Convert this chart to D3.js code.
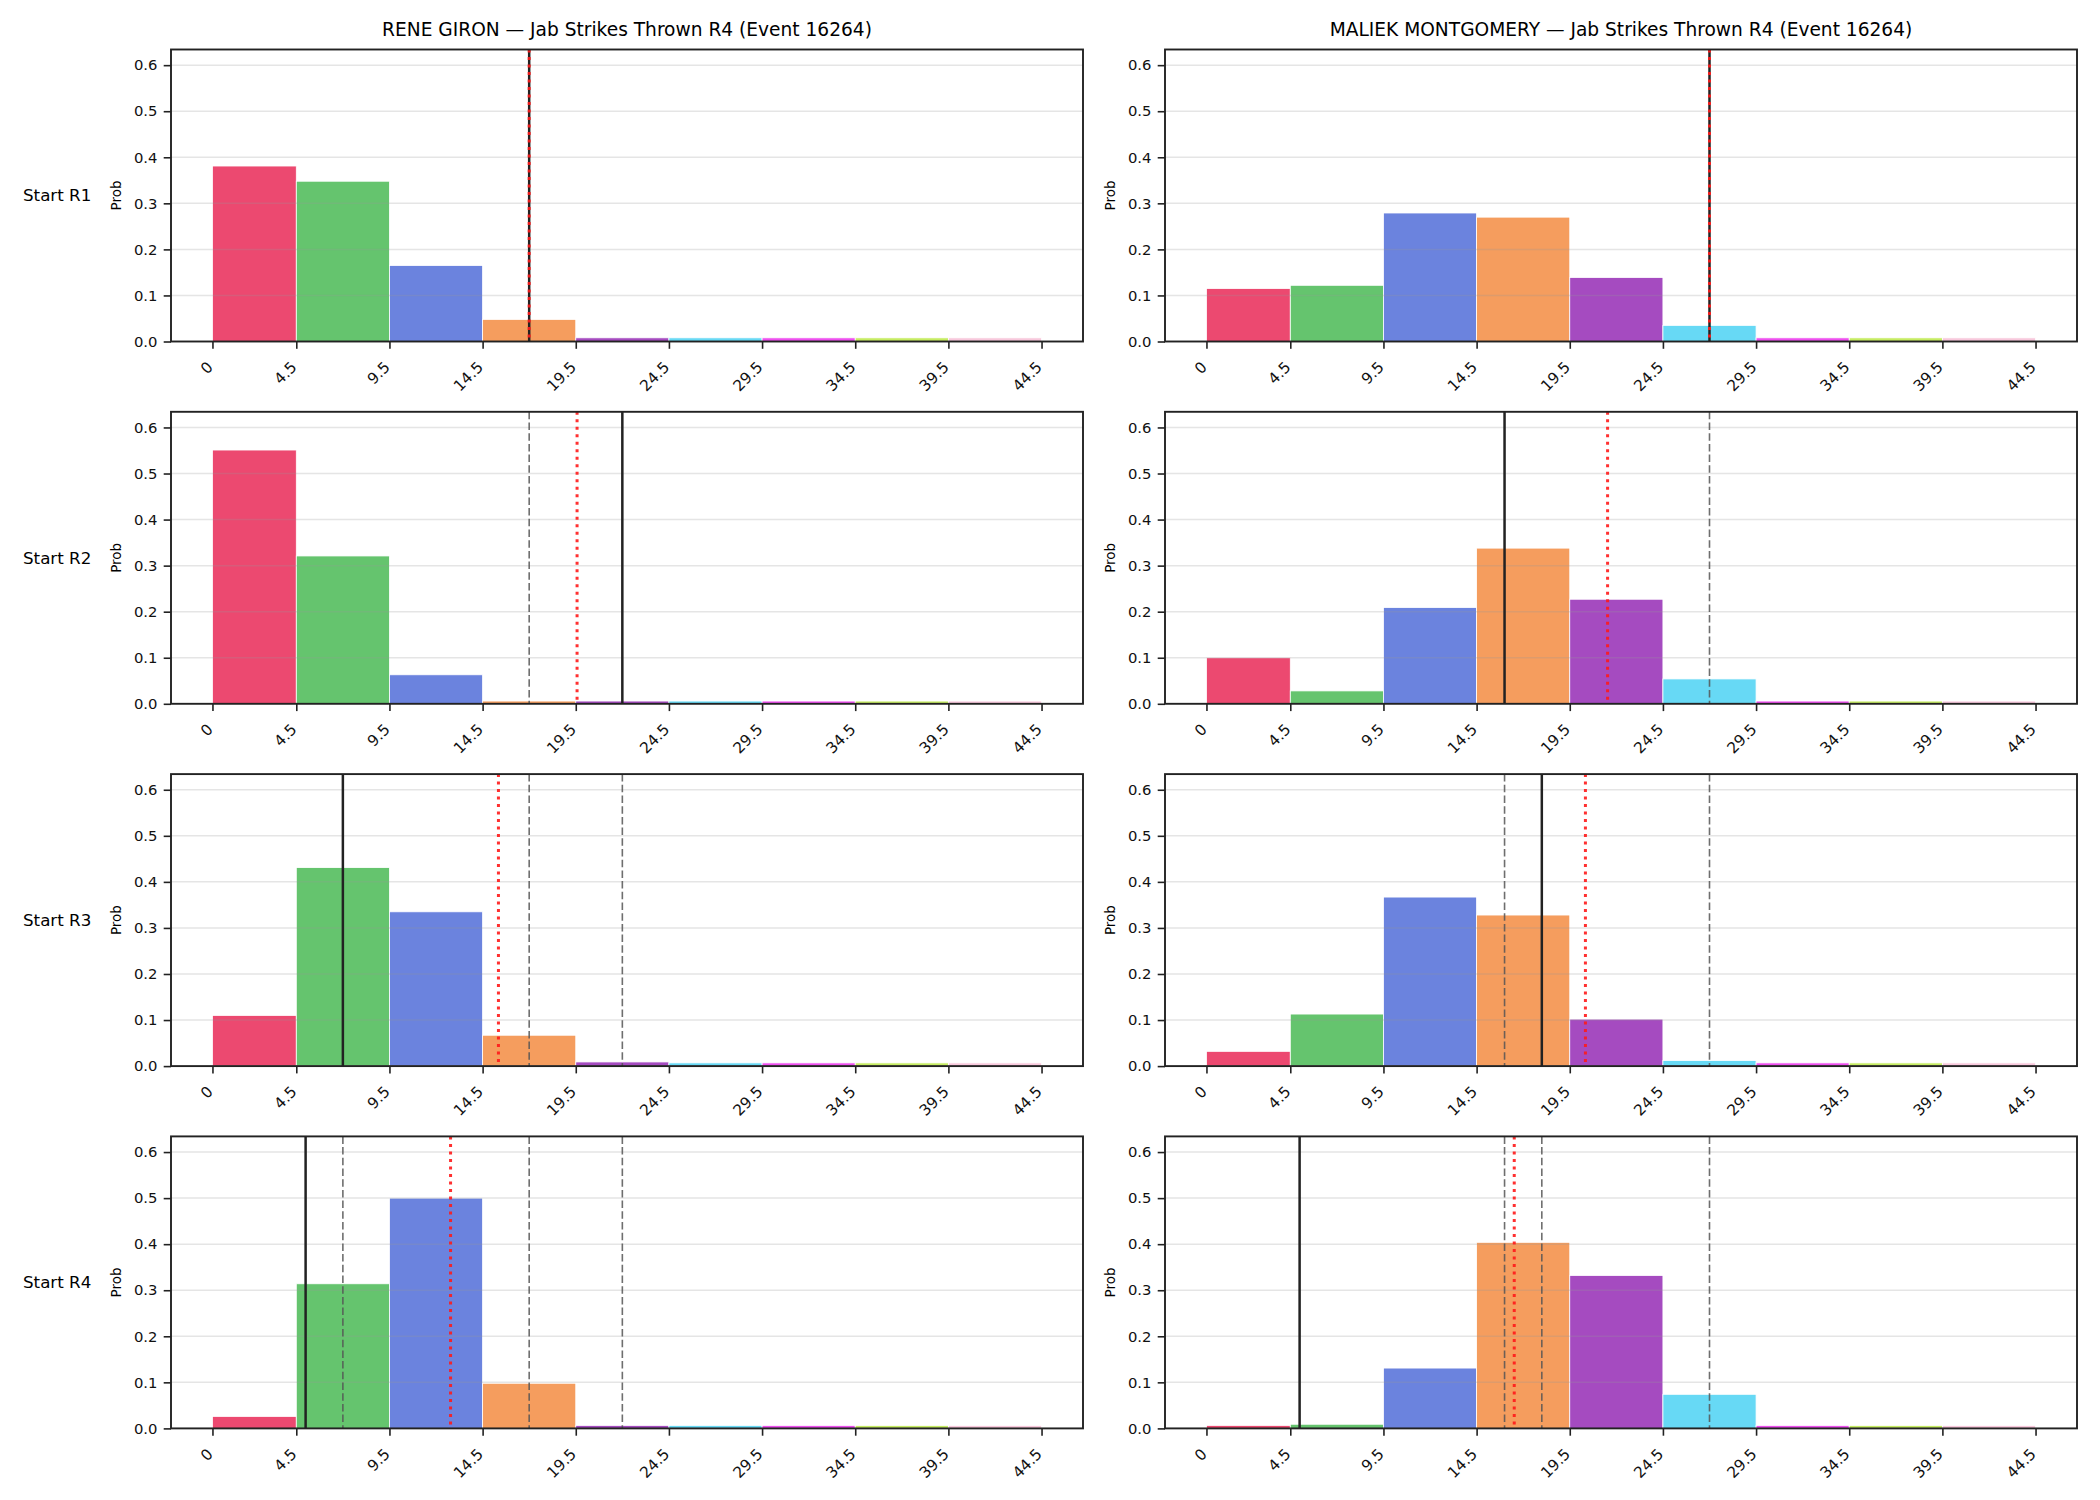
<!DOCTYPE html>
<html>
<head>
<meta charset="utf-8">
<script src="https://cdn.jsdelivr.net/npm/d3@7"></script>
<style>
  body { margin: 0; background: #fff; }
  svg { font-family: "DejaVu Sans", sans-serif; }
</style>
</head>
<body>
<div id="chart-area"></div>
<script>
// figure size
let width = 2100,
	height = 1500;

// bins (edges) and tick labels
const binEdges = [0, 4.5, 9.5, 14.5, 19.5, 24.5, 29.5, 34.5, 39.5, 44.5];
const tickLabels = ["0", "4.5", "9.5", "14.5", "19.5", "24.5", "29.5", "34.5", "39.5", "44.5"];
const binColors = ["#ec4970", "#65c46e", "#6b83de", "#f59d5e", "#a54bc0", "#67d9f5", "#ee4fef", "#c6ec62", "#f8c8dc"];

const fighters = ["RENE GIRON", "MALIEK MONTGOMERY"];
const rowLabels = ["Start R1", "Start R2", "Start R3", "Start R4"];
const yTicks = [0, 0.1, 0.2, 0.3, 0.4, 0.5, 0.6];

// probability per bin, one row per starting round
const gironProbs = [
	[0.381, 0.348, 0.165, 0.048, 0.008, 0.008, 0.008, 0.008, 0.008],
	[0.551, 0.321, 0.063, 0.006, 0.006, 0.006, 0.006, 0.006, 0.006],
	[0.110, 0.431, 0.335, 0.067, 0.009, 0.007, 0.007, 0.007, 0.007],
	[0.026, 0.314, 0.500, 0.098, 0.0065, 0.0065, 0.0065, 0.0065, 0.0065]
];
const montgomeryProbs = [
	[0.115, 0.122, 0.279, 0.270, 0.139, 0.035, 0.008, 0.008, 0.008],
	[0.100, 0.028, 0.209, 0.338, 0.227, 0.054, 0.006, 0.006, 0.006],
	[0.032, 0.113, 0.367, 0.328, 0.102, 0.012, 0.007, 0.007, 0.007],
	[0.0065, 0.009, 0.131, 0.404, 0.332, 0.074, 0.0065, 0.0065, 0.0065]
];

// solid line per row, red dotted mean per row (earlier rows shown dashed)
const gironLine = [17, 22, 7, 5];
const gironMean = [17, 19.57, 15.35, 12.78];
const montgomeryLine = [27, 16, 18, 5];
const montgomeryMean = [27, 21.53, 20.34, 16.52];

const yMax = 0.634;

let svg = d3.select("#chart-area").append("svg")
	.attr("width", width)
	.attr("height", height);

svg.append("rect").attr("width", width).attr("height", height).attr("fill", "#fff");

let colLeft = [171, 1165],
	panelW = 912,
	panelH = 292,
	rowTop = [49.5, 411.8, 774.1, 1136.4];

let columns = [
	{name: fighters[0], probs: gironProbs, line: gironLine, mean: gironMean},
	{name: fighters[1], probs: montgomeryProbs, line: montgomeryLine, mean: montgomeryMean}
];

columns.forEach((col, c) => {
	rowTop.forEach((top, r) => {
		drawPanel(col, c, r, colLeft[c], top);
	});
	// column title
	svg.append("text")
		.attr("x", colLeft[c] + panelW / 2)
		.attr("y", rowTop[0] - 13.5)
		.attr("text-anchor", "middle")
		.style("font-size", "18.6px")
		.text(col.name + " \u2014 Jab Strikes Thrown R4 (Event 16264)");
});

// row labels on the left
rowTop.forEach((top, r) => {
	svg.append("text")
		.attr("x", 23)
		.attr("y", top + panelH / 2)
		.attr("dy", "0.35em")
		.style("font-size", "16.7px")
		.text(rowLabels[r]);
});

function drawPanel(col, c, r, left, top) {
	let g = svg.append("g").attr("transform", "translate(" + left + "," + top + ")");

	let x = d3.scaleLinear().domain([-2.225, 46.725]).range([0, panelW]);
	let y = d3.scaleLinear().domain([0, yMax]).range([panelH, 0]);

	let bins = col.probs[r].map((p, i) => ({x0: binEdges[i], x1: binEdges[i + 1], p: p, i: i}));

	g.selectAll(".bar").data(bins).enter()
		.append("rect")
		.attr("class", "bar")
		.attr("x", d => x(d.x0))
		.attr("y", d => y(d.p))
		.attr("width", d => x(d.x1) - x(d.x0))
		.attr("height", d => y(0) - y(d.p))
		.attr("fill", d => binColors[d.i])
		.attr("stroke", "#fff")
		.attr("stroke-width", 0.8);

	// horizontal grid on top of the bars
	g.selectAll(".grid").data(yTicks.slice(1)).enter()
		.append("line")
		.attr("x1", 0).attr("x2", panelW)
		.attr("y1", d => y(d)).attr("y2", d => y(d))
		.attr("stroke", "#999")
		.attr("stroke-opacity", 0.25)
		.attr("stroke-width", 1.5);

	// earlier rounds, dashed
	let prev = col.line.slice(0, r);
	g.selectAll(".prev").data(prev).enter()
		.append("line")
		.attr("x1", d => x(d)).attr("x2", d => x(d))
		.attr("y1", 0).attr("y2", panelH)
		.attr("stroke", "#555")
		.attr("stroke-opacity", 0.85)
		.attr("stroke-width", 1.6)
		.attr("stroke-dasharray", "7.5,3.2");

	// current line, solid
	g.append("line")
		.attr("x1", x(col.line[r])).attr("x2", x(col.line[r]))
		.attr("y1", 0).attr("y2", panelH)
		.attr("stroke", "#222")
		.attr("stroke-width", 2.5);

	// mean, red dotted
	g.append("line")
		.attr("x1", x(col.mean[r])).attr("x2", x(col.mean[r]))
		.attr("y1", 0).attr("y2", panelH)
		.attr("stroke", "#ff1a1a")
		.attr("stroke-opacity", 0.9)
		.attr("stroke-width", 3)
		.attr("stroke-dasharray", "3,4.5");

	// axes
	let xAxis = d3.axisBottom(x)
		.tickValues(binEdges)
		.tickFormat((d, i) => tickLabels[i])
		.tickSize(7.3)
		.tickSizeOuter(0);
	let yAxis = d3.axisLeft(y)
		.tickValues(yTicks)
		.tickFormat(d3.format(".1f"))
		.tickSize(7.3)
		.tickSizeOuter(0);

	let xg = g.append("g")
		.attr("transform", "translate(0," + panelH + ")")
		.call(xAxis);
	xg.select(".domain").remove();
	xg.selectAll(".tick line").attr("stroke", "#222").attr("stroke-width", 1.6);
	xg.selectAll(".tick text")
		.attr("x", -4)
		.attr("y", 0)
		.attr("dy", "0.35em")
		.attr("transform", "translate(0,20) rotate(-45)")
		.attr("text-anchor", "end")
		.attr("fill", "#111")
		.style("font-size", "15.3px")
		.style("font-family", "DejaVu Sans");

	let yg = g.append("g").call(yAxis);
	yg.select(".domain").remove();
	yg.selectAll(".tick line").attr("stroke", "#222").attr("stroke-width", 1.6);
	yg.selectAll(".tick text")
		.attr("x", -13.5)
		.attr("fill", "#111")
		.style("font-size", "14.8px")
		.style("font-family", "DejaVu Sans");

	// frame
	g.append("rect")
		.attr("width", panelW)
		.attr("height", panelH)
		.attr("fill", "none")
		.attr("stroke", "#222")
		.attr("stroke-width", 1.9);

	// y label
	g.append("text")
		.attr("transform", "translate(-55," + panelH / 2 + ") rotate(-90)")
		.attr("text-anchor", "middle")
		.attr("dy", "0.35em")
		.style("font-size", "13.5px")
		.text("Prob");
}
</script>
</body>
</html>
